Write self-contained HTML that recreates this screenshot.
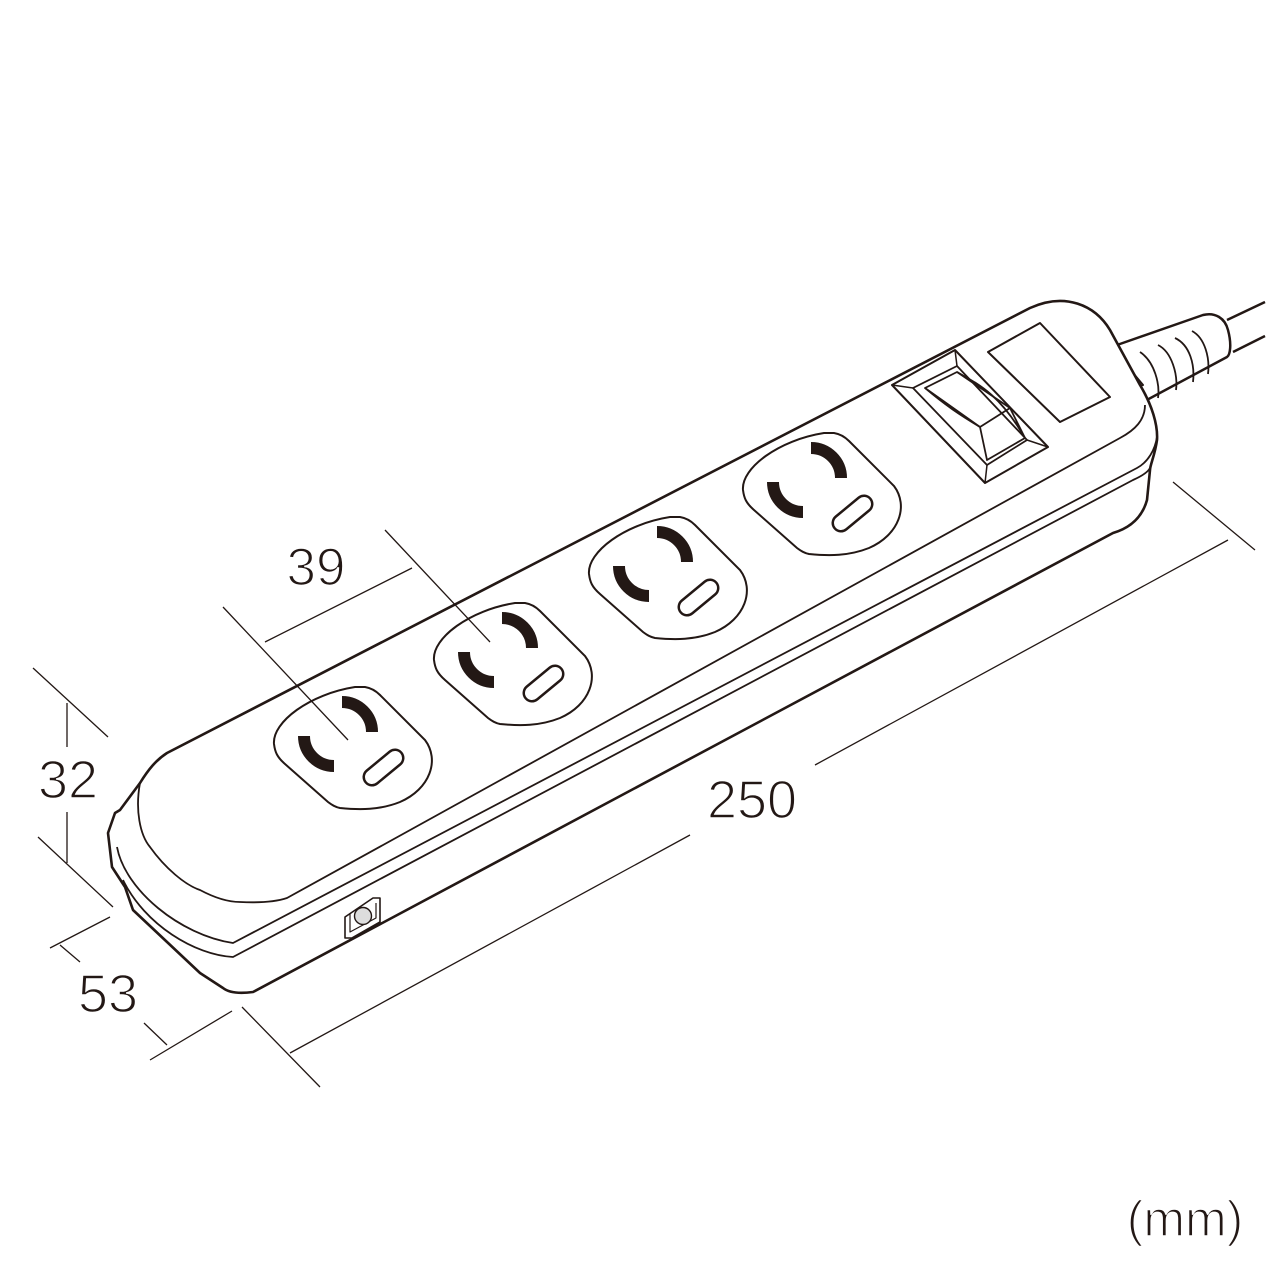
<!DOCTYPE html>
<html><head><meta charset="utf-8"><style>
html,body{margin:0;padding:0;background:#fff}
svg{display:block}
text{font-family:"Liberation Sans",sans-serif;fill:#231815;stroke:#fff;stroke-width:1.6;paint-order:normal}
</style></head><body>
<svg width="1280" height="1280" viewBox="0 0 1280 1280" xmlns="http://www.w3.org/2000/svg">
<defs>
<g id="sock">
<path d="M434,660 C432,638 470,610 515,603 L525,603 C531,604 536,607 540,611 L585,656 C600,676 590,705 560,718 C540,726 520,726 500,724 C495,723 492,721 488,718 L445,680 C437,673 435,668 434,660 Z" fill="#fff" stroke="#231815" stroke-width="2"/>
<path d="M502,618 A30,30 0 0 1 532,648" fill="none" stroke="#231815" stroke-width="12"/>
<path d="M464,652 A30,30 0 0 0 494,682" fill="none" stroke="#231815" stroke-width="12"/>
<line x1="532" y1="693" x2="555" y2="674" stroke="#231815" stroke-width="19" stroke-linecap="round"/>
<line x1="532" y1="693" x2="555" y2="674" stroke="#fff" stroke-width="14" stroke-linecap="round"/>
</g>
</defs>
<g fill="none" stroke="#231815" stroke-linejoin="round">
<path d="M1227,320 L1265,302 M1233,352 L1265,336" stroke-width="2.5"/>
<path d="M1117,345 L1203,315 C1215,312 1225,318 1228,330 C1232,345 1230,355 1227,357 L1143,402" stroke-width="2.5" fill="#fff"/>
<path d="M1140,352 C1155,362 1160,385 1158,398 M1158,345 C1172,352 1178,375 1176,390 M1175,338 C1190,345 1195,365 1193,382 M1192,331 C1205,338 1210,358 1208,374" stroke-width="1.8"/>
<path d="M1095,340 L1103,337 L1143,385 L1138,387 Z" stroke-width="2" fill="#fff"/>
<path d="M167,753 L1030,308 C1065,292 1095,305 1110,330 L1140,385 C1152,405 1158,425 1157,440 C1155,455 1150,465 1150,470 L1147,500 C1142,518 1130,528 1113,533 L253,992 C238,994 228,992 223,988 L200,973 L133,910 L125,887 L112,867 L108,833 L115,813 L120,810 L140,783 C148,770 156,760 167,753 Z" fill="#fff" stroke-width="2.6"/>
<path d="M140,783 C135,810 140,835 150,847 C165,868 185,885 200,890 C215,898 228,902 240,902 C260,903 275,902 287,898 L1120,438 C1135,430 1145,420 1145,405" stroke-width="1.8"/>
<path d="M117,847 C125,890 180,935 233,943 L1137,468 C1148,462 1155,450 1157,437" stroke-width="1.8"/>
<path d="M123,880 C145,925 195,955 233,957 L1133,480 C1142,476 1148,472 1150,468" stroke-width="1.8"/>
<path d="M345,917 L345,938 L352,938 L380,922 L380,898 L373,898 Z" stroke-width="1.6" fill="#fff"/>
<path d="M350,914 L350,932 L376,918 L376,903" stroke-width="1.2"/>
<circle cx="363" cy="916" r="8.5" fill="#ddd" stroke-width="1.4"/>
<path d="M892,385 L955,350 L1048,447 L985,483 Z" stroke-width="2" fill="#fff"/>
<path d="M913,388 L957,366 L1027,440 L987,465 Z" stroke-width="1.8"/>
<path d="M892,385 L913,388 M955,350 L957,366 M1048,447 L1027,440 M985,483 L987,465" stroke-width="1.5"/>
<path d="M925,388 L957,372 L1010,408 L980,427 Z" stroke-width="1.8"/>
<path d="M1010,408 L1025,438 L987,460 L980,427 M925,388 C945,405 960,415 980,427 M957,372 C980,385 1000,395 1025,438" stroke-width="1.8"/>
<path d="M988,352 L1040,323 L1110,397 L1060,422 Z" stroke-width="2"/>
</g>
<use href="#sock" transform="translate(-160,84)"/>
<use href="#sock"/>
<use href="#sock" transform="translate(155,-86)"/>
<use href="#sock" transform="translate(309,-170)"/>
<g stroke="#231815" stroke-width="1.3" fill="none">
<path d="M223,607 L348,740 M385,530 L490,642 M265,642 L412,568"/>
<path d="M33,668 L108,737 M38,837 L113,907 M67,703 L67,747 M67,812 L67,863"/>
<path d="M50,948 L110,917 M150,1060 L232,1011 M60,945 L80,962 M144,1023 L167,1045"/>
<path d="M242,1007 L320,1087 M1173,482 L1255,550 M290,1053 L690,835 M815,765 L1228,540"/>
</g>
<text x="316" y="585" font-size="53" text-anchor="middle">39</text>
<text x="68" y="798" font-size="54" text-anchor="middle">32</text>
<text x="108" y="1012" font-size="54" text-anchor="middle">53</text>
<text x="752" y="818" font-size="54" text-anchor="middle">250</text>
<text x="1185" y="1236" font-size="50" text-anchor="middle">(mm)</text>
</svg>
</body></html>
